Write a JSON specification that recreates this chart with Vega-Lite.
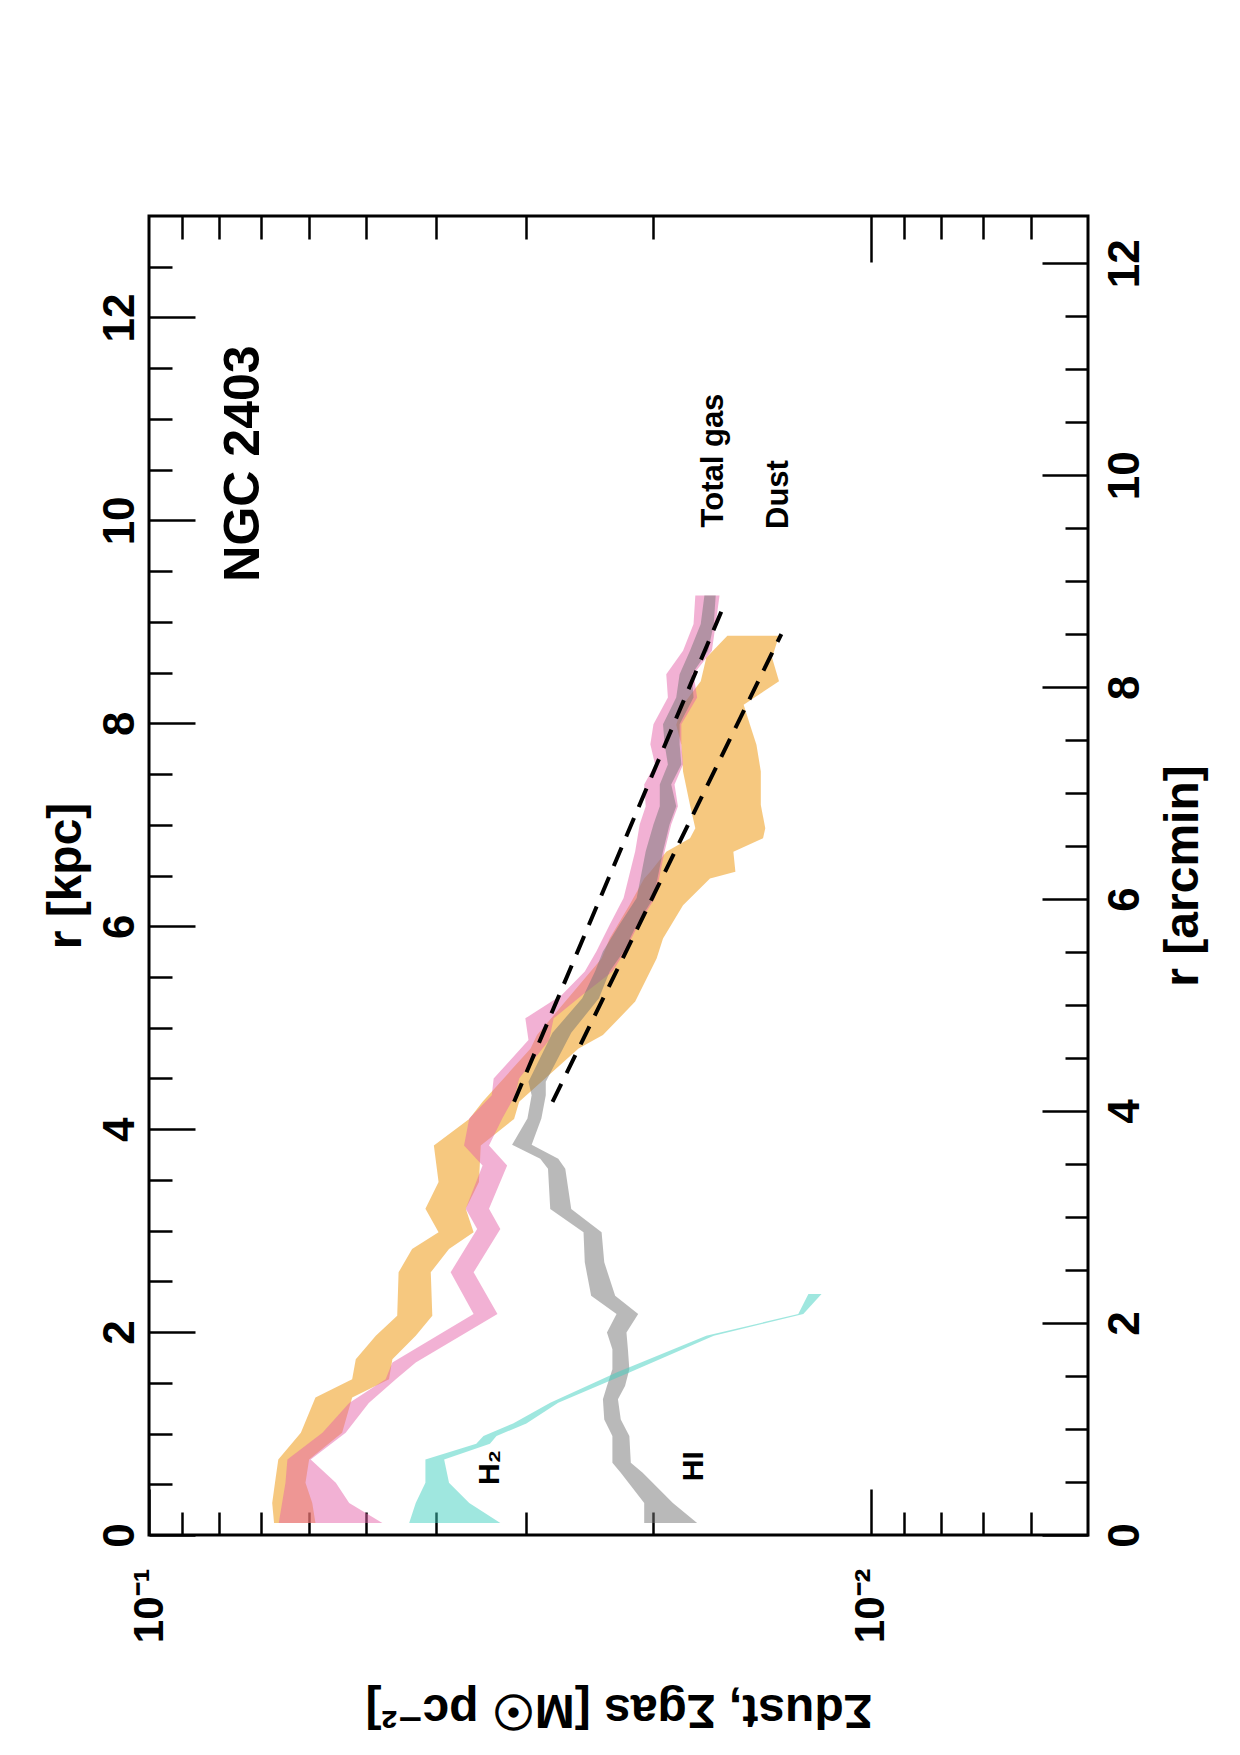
{
  "$schema": "https://vega.github.io/schema/vega-lite/v6.json",
  "width": 939,
  "height": 1319,
  "autosize": {"type": "none"},
  "padding": {"left": 149, "top": 216, "right": 152, "bottom": 220},
  "background": "white",
  "config": {
    "view": {"stroke": "black", "strokeWidth": 3},
    "font": "Liberation Sans",
    "axis": {
      "grid": false, "domain": false, "tickColor": "black", "tickWidth": 2.5,
      "labelFont": "Liberation Sans", "labelFontWeight": "bold", "labelFontSize": 44, "labelColor": "black",
      "titleFont": "Liberation Sans", "titleFontWeight": "bold", "titleFontSize": 48, "titleColor": "black",
      "labelFlush": false, "labelOverlap": false, "labelBound": false
    }
  },
  "datasets": {
    "dust": [
      {"r": 0.118, "hi": 0.0671, "lo": 0.0588}, {"r": 0.316, "hi": 0.0675, "lo": 0.0594},
      {"r": 0.514, "hi": 0.0669, "lo": 0.0607}, {"r": 0.744, "hi": 0.0662, "lo": 0.0600},
      {"r": 1.008, "hi": 0.0616, "lo": 0.0540}, {"r": 1.354, "hi": 0.0588, "lo": 0.0523},
      {"r": 1.535, "hi": 0.0523, "lo": 0.0465}, {"r": 1.733, "hi": 0.0517, "lo": 0.0460},
      {"r": 1.963, "hi": 0.0485, "lo": 0.0427}, {"r": 2.161, "hi": 0.0453, "lo": 0.0405},
      {"r": 2.589, "hi": 0.0451, "lo": 0.0407}, {"r": 2.819, "hi": 0.0432, "lo": 0.0384},
      {"r": 2.984, "hi": 0.0397, "lo": 0.0355}, {"r": 3.215, "hi": 0.0414, "lo": 0.0364},
      {"r": 3.479, "hi": 0.0397, "lo": 0.0349}, {"r": 3.84, "hi": 0.0403, "lo": 0.0347},
      {"r": 4.10, "hi": 0.0360, "lo": 0.0312}, {"r": 4.269, "hi": 0.0345, "lo": 0.0307},
      {"r": 4.795, "hi": 0.0296, "lo": 0.0254}, {"r": 4.927, "hi": 0.0290, "lo": 0.0235},
      {"r": 5.257, "hi": 0.0265, "lo": 0.0212}, {"r": 5.681, "hi": 0.0236, "lo": 0.0198},
      {"r": 5.879, "hi": 0.0230, "lo": 0.0194}, {"r": 6.208, "hi": 0.0216, "lo": 0.0182},
      {"r": 6.471, "hi": 0.0206, "lo": 0.0167}, {"r": 6.537, "hi": 0.0202, "lo": 0.0154},
      {"r": 6.735, "hi": 0.0192, "lo": 0.0155}, {"r": 6.866, "hi": 0.0178, "lo": 0.0141},
      {"r": 6.965, "hi": 0.0175, "lo": 0.0140}, {"r": 7.196, "hi": 0.0178, "lo": 0.0142},
      {"r": 7.525, "hi": 0.0182, "lo": 0.0142}, {"r": 7.789, "hi": 0.0183, "lo": 0.0144},
      {"r": 7.986, "hi": 0.0186, "lo": 0.0147}, {"r": 8.184, "hi": 0.0182, "lo": 0.0150},
      {"r": 8.415, "hi": 0.0172, "lo": 0.0134}, {"r": 8.645, "hi": 0.0169, "lo": 0.0137},
      {"r": 8.864, "hi": 0.0158, "lo": 0.0134}
    ],
    "gas": [
      {"r": 0.118, "hi": 0.0661, "lo": 0.0475}, {"r": 0.316, "hi": 0.0654, "lo": 0.0528},
      {"r": 0.514, "hi": 0.0647, "lo": 0.0551}, {"r": 0.744, "hi": 0.0643, "lo": 0.0597},
      {"r": 1.008, "hi": 0.0575, "lo": 0.0534}, {"r": 1.30, "hi": 0.0528, "lo": 0.0496},
      {"r": 1.535, "hi": 0.0470, "lo": 0.0455}, {"r": 1.70, "hi": 0.0460, "lo": 0.0427},
      {"r": 2.177, "hi": 0.0355, "lo": 0.0329}, {"r": 2.589, "hi": 0.0382, "lo": 0.0355},
      {"r": 3.017, "hi": 0.0351, "lo": 0.0326}, {"r": 3.215, "hi": 0.0364, "lo": 0.0338},
      {"r": 3.643, "hi": 0.0345, "lo": 0.0319}, {"r": 3.84, "hi": 0.0366, "lo": 0.0338},
      {"r": 4.104, "hi": 0.0360, "lo": 0.0324}, {"r": 4.334, "hi": 0.0335, "lo": 0.0311},
      {"r": 4.499, "hi": 0.0333, "lo": 0.0307}, {"r": 4.878, "hi": 0.0298, "lo": 0.0279},
      {"r": 5.092, "hi": 0.0301, "lo": 0.0275}, {"r": 5.322, "hi": 0.0268, "lo": 0.0251},
      {"r": 5.553, "hi": 0.0249, "lo": 0.0228}, {"r": 5.751, "hi": 0.0240, "lo": 0.0219},
      {"r": 6.014, "hi": 0.0230, "lo": 0.0210}, {"r": 6.278, "hi": 0.0220, "lo": 0.0199},
      {"r": 6.508, "hi": 0.0216, "lo": 0.0196}, {"r": 6.739, "hi": 0.0212, "lo": 0.0193},
      {"r": 7.002, "hi": 0.0209, "lo": 0.0189}, {"r": 7.183, "hi": 0.0205, "lo": 0.0185},
      {"r": 7.397, "hi": 0.0206, "lo": 0.0187}, {"r": 7.595, "hi": 0.0199, "lo": 0.0182},
      {"r": 7.793, "hi": 0.0202, "lo": 0.0183}, {"r": 7.99, "hi": 0.0200, "lo": 0.0183},
      {"r": 8.254, "hi": 0.0191, "lo": 0.0174}, {"r": 8.484, "hi": 0.0192, "lo": 0.0176},
      {"r": 8.715, "hi": 0.0182, "lo": 0.0166}, {"r": 8.978, "hi": 0.0176, "lo": 0.0164},
      {"r": 9.259, "hi": 0.0175, "lo": 0.0162}
    ],
    "hi": [
      {"r": 0.119, "hi": 0.0206, "lo": 0.0174}, {"r": 0.316, "hi": 0.0206, "lo": 0.0188},
      {"r": 0.613, "hi": 0.0222, "lo": 0.0207}, {"r": 0.711, "hi": 0.0228, "lo": 0.0215},
      {"r": 0.975, "hi": 0.0228, "lo": 0.0216}, {"r": 1.139, "hi": 0.0234, "lo": 0.0222},
      {"r": 1.337, "hi": 0.0235, "lo": 0.0224}, {"r": 1.468, "hi": 0.0232, "lo": 0.0219},
      {"r": 1.633, "hi": 0.0228, "lo": 0.0216}, {"r": 1.831, "hi": 0.0228, "lo": 0.0217},
      {"r": 1.996, "hi": 0.0232, "lo": 0.0218}, {"r": 2.177, "hi": 0.0225, "lo": 0.0210},
      {"r": 2.358, "hi": 0.0244, "lo": 0.0226}, {"r": 2.687, "hi": 0.0249, "lo": 0.0234},
      {"r": 2.984, "hi": 0.0250, "lo": 0.0236}, {"r": 3.214, "hi": 0.0278, "lo": 0.0260},
      {"r": 3.61, "hi": 0.0280, "lo": 0.0265}, {"r": 3.709, "hi": 0.0287, "lo": 0.0271},
      {"r": 3.847, "hi": 0.0314, "lo": 0.0295}, {"r": 4.104, "hi": 0.0299, "lo": 0.0286},
      {"r": 4.334, "hi": 0.0295, "lo": 0.0282}, {"r": 4.466, "hi": 0.0298, "lo": 0.0282},
      {"r": 4.95, "hi": 0.0276, "lo": 0.0260}, {"r": 5.29, "hi": 0.0251, "lo": 0.0238},
      {"r": 5.553, "hi": 0.0241, "lo": 0.0230}, {"r": 5.751, "hi": 0.0235, "lo": 0.0220},
      {"r": 6.014, "hi": 0.0223, "lo": 0.0211}, {"r": 6.278, "hi": 0.0211, "lo": 0.0200},
      {"r": 6.508, "hi": 0.0208, "lo": 0.0197}, {"r": 6.739, "hi": 0.0205, "lo": 0.0194},
      {"r": 7.002, "hi": 0.0200, "lo": 0.0190}, {"r": 7.183, "hi": 0.0196, "lo": 0.0186},
      {"r": 7.397, "hi": 0.0196, "lo": 0.0189}, {"r": 7.595, "hi": 0.0191, "lo": 0.0183},
      {"r": 7.793, "hi": 0.0193, "lo": 0.0184}, {"r": 7.99, "hi": 0.0194, "lo": 0.0184},
      {"r": 8.254, "hi": 0.0186, "lo": 0.0176}, {"r": 8.484, "hi": 0.0184, "lo": 0.0177},
      {"r": 8.715, "hi": 0.0178, "lo": 0.0168}, {"r": 8.978, "hi": 0.0172, "lo": 0.0165},
      {"r": 9.259, "hi": 0.0170, "lo": 0.0164}
    ],
    "h2": [
      {"r": 0.118, "hi": 0.0436, "lo": 0.0326}, {"r": 0.316, "hi": 0.0427, "lo": 0.0360},
      {"r": 0.514, "hi": 0.0414, "lo": 0.0384}, {"r": 0.744, "hi": 0.0414, "lo": 0.0390},
      {"r": 0.90, "hi": 0.0352, "lo": 0.0337}, {"r": 0.975, "hi": 0.0344, "lo": 0.0330},
      {"r": 1.10, "hi": 0.0313, "lo": 0.0300}, {"r": 1.304, "hi": 0.0278, "lo": 0.0271},
      {"r": 1.601, "hi": 0.0225, "lo": 0.0216}, {"r": 1.963, "hi": 0.0169, "lo": 0.0165},
      {"r": 2.178, "hi": 0.0126, "lo": 0.0124}, {"r": 2.375, "hi": 0.0122, "lo": 0.0117}
    ],
    "fits": [
      {"fit": "Total gas", "r": 4.27, "s": 0.0312}, {"fit": "Total gas", "r": 9.15, "s": 0.0160},
      {"fit": "Dust", "r": 4.27, "s": 0.0276}, {"fit": "Dust", "r": 8.88, "s": 0.0133}
    ],
    "arcmin": [{"arcmin": 0}, {"arcmin": 12}]
  },
  "layer": [
    {
      "data": {"name": "dust"},
      "mark": {"type": "area", "orient": "horizontal", "color": "#EE9200", "opacity": 0.5},
      "encoding": {
        "y": {"field": "r", "type": "quantitative", "scale": {"domain": [0, 13], "nice": false, "zero": false},
          "axis": {"orient": "left", "values": [0, 2, 4, 6, 8, 10, 12], "tickSize": -46, "labelPadding": 62, "labelAngle": 270, "labelAlign": "center", "labelBaseline": "alphabetic", "title": "r [kpc]", "titleAngle": 270, "titleBaseline": "bottom", "titlePadding": 8}},
        "x": {"field": "hi", "type": "quantitative", "scale": {"type": "log", "domain": [0.005, 0.1], "reverse": true, "nice": false},
          "axis": {"orient": "bottom", "values": [0.1, 0.01], "tickSize": -46, "labelPadding": 79, "labelAngle": 270, "labelAlign": "right", "labelBaseline": "middle", "labelFontSize": 42, "labelExpr": "datum.value > 0.05 ? '10⁻¹' : '10⁻²'", "title": "Σdust, Σgas [M☉ pc⁻²]", "titleFontSize": 48, "titleAngle": 180, "titleBaseline": "bottom", "titlePadding": 42}},
        "x2": {"field": "lo"}
      }
    },
    {
      "data": {"name": "gas"},
      "mark": {"type": "area", "orient": "horizontal", "color": "#E664AA", "opacity": 0.5},
      "encoding": {
        "y": {"field": "r", "type": "quantitative", "scale": {"domain": [0, 13], "nice": false, "zero": false},
          "axis": {"orient": "left", "values": [0.5, 1, 1.5, 2.5, 3, 3.5, 4.5, 5, 5.5, 6.5, 7, 7.5, 8.5, 9, 9.5, 10.5, 11, 11.5, 12.5], "tickSize": -23, "labels": false, "title": null}},
        "x": {"field": "hi", "type": "quantitative", "scale": {"type": "log", "domain": [0.005, 0.1], "reverse": true, "nice": false},
          "axis": {"orient": "bottom", "values": [0.09, 0.08, 0.07, 0.06, 0.05, 0.04, 0.03, 0.02, 0.009, 0.008, 0.007, 0.006], "tickSize": -23, "labels": false, "title": null}},
        "x2": {"field": "lo"}
      }
    },
    {
      "data": {"name": "hi"},
      "mark": {"type": "area", "orient": "horizontal", "color": "#737373", "opacity": 0.5},
      "encoding": {
        "y": {"field": "r", "type": "quantitative", "scale": {"domain": [0, 13], "nice": false, "zero": false}, "axis": null},
        "x": {"field": "hi", "type": "quantitative", "scale": {"type": "log", "domain": [0.005, 0.1], "reverse": true, "nice": false},
          "axis": {"orient": "top", "values": [0.01], "tickSize": -46, "labels": false, "title": null}},
        "x2": {"field": "lo"}
      }
    },
    {
      "data": {"name": "h2"},
      "mark": {"type": "area", "orient": "horizontal", "color": "#40D0C0", "opacity": 0.5},
      "encoding": {
        "y": {"field": "r", "type": "quantitative", "scale": {"domain": [0, 13], "nice": false, "zero": false}, "axis": null},
        "x": {"field": "hi", "type": "quantitative", "scale": {"type": "log", "domain": [0.005, 0.1], "reverse": true, "nice": false},
          "axis": {"orient": "top", "values": [0.09, 0.08, 0.07, 0.06, 0.05, 0.04, 0.03, 0.02, 0.009, 0.008, 0.007, 0.006], "tickSize": -23, "labels": false, "title": null}},
        "x2": {"field": "lo"}
      }
    },
    {
      "data": {"name": "fits"},
      "mark": {"type": "line", "color": "black", "strokeWidth": 4, "strokeDash": [20, 12]},
      "encoding": {
        "y": {"field": "r", "type": "quantitative", "scale": {"domain": [0, 13], "nice": false, "zero": false}, "axis": null},
        "x": {"field": "s", "type": "quantitative", "scale": {"type": "log", "domain": [0.005, 0.1], "reverse": true, "nice": false}, "axis": null},
        "detail": {"field": "fit"}
      }
    },
    {
      "data": {"values": [{"label": "NGC 2403", "s": 0.0739, "r": 10.56}]},
      "mark": {"type": "text", "angle": 270, "fontSize": 50, "fontWeight": "bold", "font": "Liberation Sans", "align": "center", "baseline": "middle", "color": "black"},
      "encoding": {
        "y": {"field": "r", "type": "quantitative", "scale": {"domain": [0, 13], "nice": false, "zero": false}, "axis": null},
        "x": {"field": "s", "type": "quantitative", "scale": {"type": "log", "domain": [0.005, 0.1], "reverse": true, "nice": false}, "axis": null},
        "text": {"field": "label"}
      }
    },
    {
      "data": {"values": [{"label": "Total gas", "s": 0.01647, "r": 10.59}, {"label": "Dust", "s": 0.01338, "r": 10.255}]},
      "mark": {"type": "text", "angle": 270, "fontSize": 31, "fontWeight": "bold", "font": "Liberation Sans", "align": "center", "baseline": "middle", "color": "black"},
      "encoding": {
        "y": {"field": "r", "type": "quantitative", "scale": {"domain": [0, 13], "nice": false, "zero": false}, "axis": null},
        "x": {"field": "s", "type": "quantitative", "scale": {"type": "log", "domain": [0.005, 0.1], "reverse": true, "nice": false}, "axis": null},
        "text": {"field": "label"}
      }
    },
    {
      "data": {"values": [{"label": "H₂", "s": 0.0337, "r": 0.665}, {"label": "HI", "s": 0.01758, "r": 0.678}]},
      "mark": {"type": "text", "angle": 270, "fontSize": 30, "fontWeight": "bold", "font": "Liberation Sans", "align": "center", "baseline": "middle", "color": "black"},
      "encoding": {
        "y": {"field": "r", "type": "quantitative", "scale": {"domain": [0, 13], "nice": false, "zero": false}, "axis": null},
        "x": {"field": "s", "type": "quantitative", "scale": {"type": "log", "domain": [0.005, 0.1], "reverse": true, "nice": false}, "axis": null},
        "text": {"field": "label"}
      }
    },
    {
      "data": {"name": "arcmin"},
      "mark": {"type": "point", "opacity": 0},
      "encoding": {
        "y": {"field": "arcmin", "type": "quantitative", "scale": {"domain": [0, 12.446], "nice": false, "zero": false},
          "axis": {"orient": "right", "values": [0, 2, 4, 6, 8, 10, 12], "tickSize": -46, "labelPadding": 61, "labelAngle": 270, "labelAlign": "center", "labelBaseline": "top", "title": "r [arcmin]", "titleAngle": 270, "titleBaseline": "top", "titlePadding": 12}}
      }
    },
    {
      "data": {"name": "arcmin"},
      "mark": {"type": "point", "opacity": 0},
      "encoding": {
        "y": {"field": "arcmin", "type": "quantitative", "scale": {"domain": [0, 12.446], "nice": false, "zero": false},
          "axis": {"orient": "right", "values": [0.5, 1, 1.5, 2.5, 3, 3.5, 4.5, 5, 5.5, 6.5, 7, 7.5, 8.5, 9, 9.5, 10.5, 11, 11.5], "tickSize": -23, "labels": false, "title": null}}
      }
    }
  ],
  "resolve": {"scale": {"y": "independent"}, "axis": {"x": "independent", "y": "independent"}}
}
